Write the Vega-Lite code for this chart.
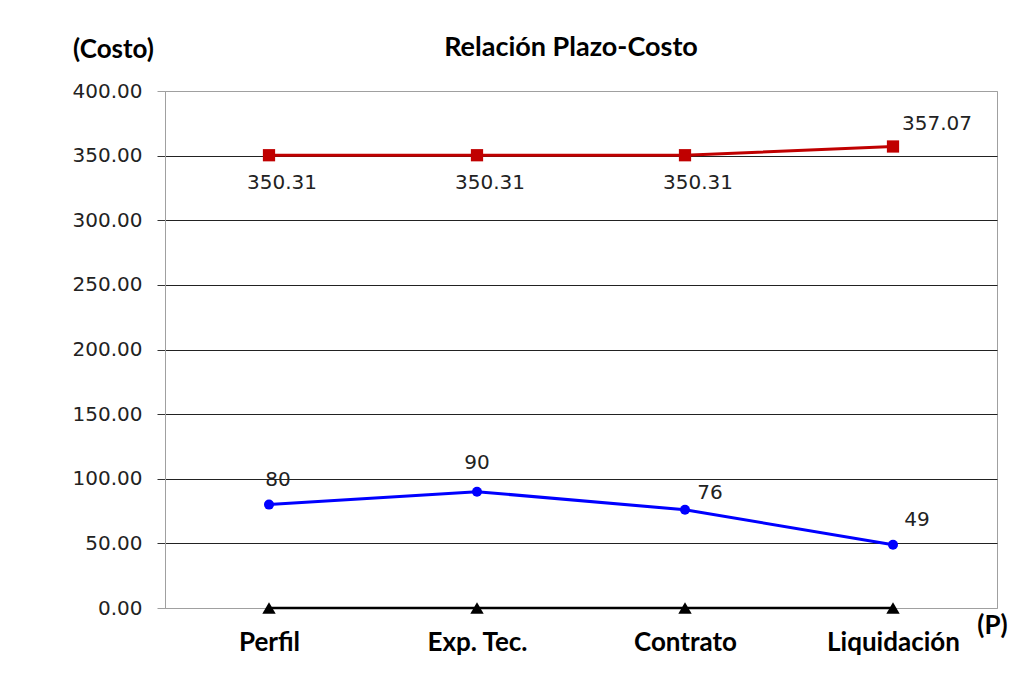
{
  "$schema": "https://vega.github.io/schema/vega-lite/v6.json",
  "width": 832,
  "height": 517,
  "autosize": {"type": "none"},
  "padding": {"left": 165, "top": 91, "right": 21, "bottom": 77},
  "background": "white",
  "title": {"text": "Relación Plazo-Costo", "font": "Lato", "fontWeight": "bold", "fontSize": 27, "color": "#000", "anchor": "middle", "dx": -10, "offset": 34, "dy": 81, "baseline": "alphabetic"},
  "config": {"view": {"stroke": "#a0a0a0", "strokeWidth": 1}},
  "data": {"values": [
    {"etapa": "Perfil", "serie": "Costo", "valor": 350.31},
    {"etapa": "Exp. Tec.", "serie": "Costo", "valor": 350.31},
    {"etapa": "Contrato", "serie": "Costo", "valor": 350.31},
    {"etapa": "Liquidación", "serie": "Costo", "valor": 357.07},
    {"etapa": "Perfil", "serie": "Plazo", "valor": 80},
    {"etapa": "Exp. Tec.", "serie": "Plazo", "valor": 90},
    {"etapa": "Contrato", "serie": "Plazo", "valor": 76},
    {"etapa": "Liquidación", "serie": "Plazo", "valor": 49},
    {"etapa": "Perfil", "serie": "Base", "valor": 0},
    {"etapa": "Exp. Tec.", "serie": "Base", "valor": 0},
    {"etapa": "Contrato", "serie": "Base", "valor": 0},
    {"etapa": "Liquidación", "serie": "Base", "valor": 0}
  ]},
  "encoding": {
    "x": {
      "field": "etapa", "type": "nominal",
      "sort": ["Perfil", "Exp. Tec.", "Contrato", "Liquidación"],
      "scale": {"type": "point", "padding": 0.5},
      "axis": {
        "title": "(P)", "titleX": 827, "titleY": 17, "titleBaseline": "middle", "titleAlign": "center",
        "titleFont": "Lato", "titleFontWeight": "bold", "titleFontSize": 26, "titleColor": "#000",
        "labelFont": "Lato", "labelFontWeight": "bold", "labelFontSize": 26, "labelColor": "#000",
        "labelAngle": 0, "labelBaseline": "alphabetic", "labelPadding": 42,
        "ticks": false, "domain": false, "grid": false
      }
    },
    "y": {
      "field": "valor", "type": "quantitative",
      "scale": {"domain": [0, 400], "nice": false},
      "axis": {
        "values": [0, 50, 100, 150, 200, 250, 300, 350, 400],
        "format": ".2f",
        "title": "(Costo)", "titleAngle": 0, "titleX": -52, "titleY": -42, "titleAlign": "center", "titleBaseline": "middle",
        "titleFont": "Lato", "titleFontWeight": "bold", "titleFontSize": 26, "titleColor": "#000",
        "labelFont": "DejaVu Sans", "labelFontSize": 20, "labelColor": "#222", "labelPadding": 15,
        "tickSize": 8,
        "tickColor": {"condition": {"test": "datum.value == 0 || datum.value == 400", "value": "#a0a0a0"}, "value": "#333"},
        "gridColor": {"condition": {"test": "datum.value == 0 || datum.value == 400", "value": "#a0a0a0"}, "value": "#222"},
        "gridWidth": 1,
        "domainColor": "#a0a0a0"
      }
    }
  },
  "layer": [
    {"transform": [{"filter": "datum.serie == 'Base'"}], "mark": {"type": "line", "color": "#000", "strokeWidth": 2.5}},
    {"transform": [{"filter": "datum.serie == 'Base'"}], "mark": {"type": "point", "shape": "triangle-up", "filled": true, "color": "#000", "size": 180, "opacity": 1}},
    {"transform": [{"filter": "datum.serie == 'Plazo'"}], "mark": {"type": "line", "color": "#0000FF", "strokeWidth": 3}},
    {"transform": [{"filter": "datum.serie == 'Plazo'"}], "mark": {"type": "point", "shape": "circle", "filled": true, "color": "#0000FF", "size": 100, "opacity": 1}},
    {"transform": [{"filter": "datum.serie == 'Costo'"}], "mark": {"type": "line", "color": "#C00000", "strokeWidth": 3}},
    {"transform": [{"filter": "datum.serie == 'Costo'"}], "mark": {"type": "point", "shape": "square", "filled": true, "color": "#C00000", "size": 150, "opacity": 1}},
    {"transform": [{"filter": "datum.serie == 'Costo' && datum.etapa != 'Liquidación'"}], "mark": {"type": "text", "font": "DejaVu Sans", "fontSize": 20, "color": "#222", "align": "center", "baseline": "middle", "dx": 13, "dy": 28}, "encoding": {"text": {"field": "valor", "type": "quantitative", "format": ".2f"}}},
    {"transform": [{"filter": "datum.serie == 'Costo' && datum.etapa == 'Liquidación'"}], "mark": {"type": "text", "font": "DejaVu Sans", "fontSize": 20, "color": "#222", "align": "left", "baseline": "middle", "dx": 9, "dy": -22}, "encoding": {"text": {"field": "valor", "type": "quantitative", "format": ".2f"}}},
    {"transform": [{"filter": "datum.serie == 'Plazo' && datum.etapa == 'Perfil'"}], "mark": {"type": "text", "font": "DejaVu Sans", "fontSize": 20, "color": "#222", "align": "center", "baseline": "middle", "dx": 9, "dy": -25}, "encoding": {"text": {"field": "valor", "type": "quantitative", "format": "d"}}},
    {"transform": [{"filter": "datum.serie == 'Plazo' && datum.etapa == 'Exp. Tec.'"}], "mark": {"type": "text", "font": "DejaVu Sans", "fontSize": 20, "color": "#222", "align": "center", "baseline": "middle", "dx": 0, "dy": -29}, "encoding": {"text": {"field": "valor", "type": "quantitative", "format": "d"}}},
    {"transform": [{"filter": "datum.serie == 'Plazo' && datum.etapa == 'Contrato'"}], "mark": {"type": "text", "font": "DejaVu Sans", "fontSize": 20, "color": "#222", "align": "center", "baseline": "middle", "dx": 25, "dy": -17}, "encoding": {"text": {"field": "valor", "type": "quantitative", "format": "d"}}},
    {"transform": [{"filter": "datum.serie == 'Plazo' && datum.etapa == 'Liquidación'"}], "mark": {"type": "text", "font": "DejaVu Sans", "fontSize": 20, "color": "#222", "align": "center", "baseline": "middle", "dx": 24, "dy": -25}, "encoding": {"text": {"field": "valor", "type": "quantitative", "format": "d"}}}
  ]
}
